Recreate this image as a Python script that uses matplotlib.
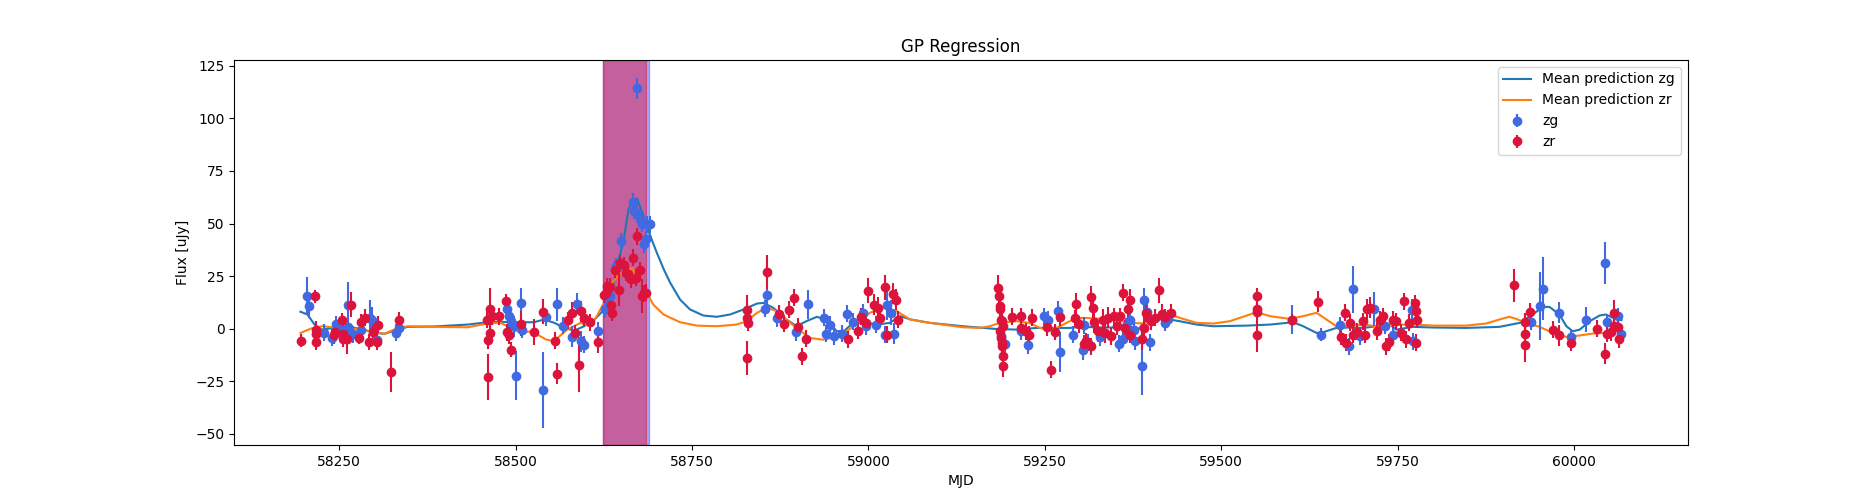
import matplotlib
matplotlib.use("Agg")
import matplotlib.pyplot as plt

# ---------------- data: zg band ----------------
zg_mjd = [58205, 58206.5, 58229, 58240, 58246, 58250, 58262.5, 58262, 58270, 58281, 58293, 58297, 58303, 58331, 58334,
          58488, 58490.5, 58493, 58497, 58501, 58507.5, 58509, 58539, 58543, 58558, 58567.5, 58580.5, 58586.5, 58592.5, 58597, 58617,
          58626.5, 58629, 58634, 58641.5, 58649, 58666, 58667.5, 58671.5, 58672, 58676, 58679, 58682, 58684, 58686, 58690,
          58854, 58855.7, 58871, 58897, 58914, 58937, 58940, 58945, 58951, 58962, 58970, 58978, 58992, 58997, 59011, 59023, 59026, 59031.5, 59036,
          59188, 59194, 59216.5, 59226, 59248.5, 59254, 59268.5, 59271, 59289.5, 59304, 59306, 59311, 59328, 59355, 59360, 59365,
          59370.5, 59376, 59377.5, 59387, 59390.5, 59394, 59399, 59420, 59425,
          59600.5, 59641,
          59668, 59680.5, 59687, 59696, 59716.5, 59731.5, 59743.5, 59769.5, 59772,
          59939, 59952, 59956.5, 59979, 59995, 60017, 60044, 60046, 60062.8, 60067]
zg_flux = [15.6, 10.8, -2.0, -4.3, 2.2, 0.5, 11.2, 0.8, -2.7, -0.8, 5.0, 4.3, -5.4, -1.9, 0.2,
           9.4, 5.8, 3.5, 1.1, -22.4, 12.2, -0.6, -29.1, 5.4, 11.5, 1.4, -4.0, 11.9, -6.0, -7.6, -1.0,
           9.1, 15.4, 15.4, 29.7, 41.5, 60.4, 56.0, 114.3, 55.2, 52.0, 50.0, 40.1, 42.5, 49.6, 49.6,
           9.5, 15.9, 4.8, -1.7, 11.5, 5.1, -2.5, 1.9, -3.7, -2.5, 7.0, 3.2, 7.5, 1.1, 1.9, -2.9, 11.0, 7.5, -2.5,
           -3.7, -7.3, -1.3, -8.0, 5.9, 4.3, 8.3, -11.1, -2.9, -10.0, 1.5, -6.8, -4.1, -7.2, -5.0, 1.1,
           4.3, -0.5, -6.0, -17.6, 13.4, 7.8, -6.5, 2.7, 4.6,
           4.3, -2.9,
           1.6, -8.4, 18.6, -3.7, 9.4, 1.4, -2.9, 9.0, -6.0,
           3.2, 10.7, 18.9, 7.5, -4.1, 4.3, 31.3, 3.0, 5.9, -2.5]
zg_err = [9, 6, 4, 4, 4, 3, 11, 4, 4, 4, 8.5, 6, 4, 4, 3,
          4, 5, 4, 5, 11.5, 7, 4, 18, 4, 8, 4, 5, 5, 5, 4, 4,
          4, 4, 4, 4, 4, 4, 4, 5.2, 4, 4, 4, 4, 4, 4, 4,
          4, 4, 4, 4, 7, 4, 4, 4, 4, 4, 4, 4, 4, 4, 4, 4, 7, 6, 5,
          4, 4, 4, 4, 4, 4, 5, 9.5, 4, 5, 4, 4, 4, 4, 4, 4,
          4, 4, 4, 14, 6, 4, 4, 4, 4,
          7, 3,
          4, 4, 11, 4, 8, 4, 4, 5, 4,
          4, 16, 15, 5, 4, 6, 10, 4, 4, 4]

# ---------------- data: zr band ----------------
zr_mjd = [58196, 58216, 58216.5, 58217, 58217.5, 58242, 58244, 58254, 58256, 58255, 58261, 58267, 58278, 58281, 58287, 58292, 58298, 58303, 58305, 58323, 58334,
          58460, 58460.5, 58461, 58463, 58464, 58466.5, 58476, 58486, 58488, 58490.5, 58493, 58507, 58526, 58539, 58556, 58558, 58573.5, 58580.5, 58584.5, 58590, 58592.5, 58597, 58605.5, 58617,
          58625, 58628, 58629.5, 58633.5, 58635, 58636.5, 58641, 58646, 58648.5, 58653, 58657, 58658.5, 58663, 58666.5, 58670, 58671.5, 58676, 58679, 58682, 58685,
          58828, 58828.5, 58829, 58828, 58855.7, 58873, 58880, 58887, 58894.5, 58900, 58905.5, 58912,
          58971, 58985, 58990, 58996, 59000, 59008, 59013.5, 59017, 59023.5, 59026.5, 59035, 59038.5, 59042.5,
          59184, 59185, 59186, 59187, 59188, 59189, 59190, 59186.5, 59187.5, 59188.5, 59189.5, 59190.5, 59191,
          59204, 59216.5, 59216.5, 59223.5, 59227.5, 59231.5, 59253, 59258, 59264.5, 59271, 59292, 59294.5, 59298,
          59305, 59308.5, 59315.5, 59318, 59314.8, 59320, 59325, 59332, 59335, 59339, 59344, 59348.5, 59352, 59357, 59360.5, 59363, 59367.5,
          59370.5, 59370.5, 59387, 59390.5, 59393, 59400, 59406, 59411, 59415.5, 59420, 59428,
          59550.5, 59550.5, 59551, 59550.5, 59600.5, 59637,
          59669, 59675, 59677, 59683, 59686, 59692, 59701, 59704, 59706.5, 59710, 59720, 59724.5, 59729, 59734, 59737, 59743.5, 59748, 59754, 59758.5, 59762, 59766, 59775, 59776, 59777.5, 59776,
          59914.5, 59930, 59930, 59930, 59937, 59970.5, 59978, 59995, 60032.5, 60044, 60046, 60051.5, 60057, 60056, 60062.8, 60063]
zr_flux = [-5.7, 15.4, -0.5, -2.5, -6.4, -3.3, -1.5, 4.3, -2.5, -4.9, -5.2, 11.3, -4.5, 3.0, 5.1, -6.4, -1.7, -6.4, 1.9, -20.7, 4.1,
           4.3, -5.6, -23.2, 9.5, -2.1, 5.9, 5.9, 13.0, -1.7, -3.3, -10.0, 2.4, -1.6, 8.0, -5.7, -21.5, 4.0, 7.5, -2.1, -17.2, 8.3, 5.1, 3.0, -6.4,
           16.2, 17.0, 20.2, 19.9, 11.0, 7.5, 28.1, 18.5, 31.0, 30.2, 26.6, 25.8, 23.4, 33.7, 24.2, 44.0, 27.7, 15.4, 16.7, 17.0,
           9.0, 5.1, 2.7, -14.0, 27.0, 7.0, 2.4, 9.0, 14.6, 0.8, -13.2, -4.8,
           -5.2, -1.0, 5.6, 2.7, 18.1, 11.4, 9.9, 5.1, 19.6, -2.9, 16.5, 13.8, 4.3,
           19.4, 15.4, 10.7, 9.1, 4.3, 3.5, 1.1, -1.3, -4.5, -6.8, -8.4, -13.2, -18.0,
           5.6, 5.9, 0.3, -1.3, -2.9, 5.1, 0.6, -19.6, -1.6, 5.4, 4.8, 11.9, 2.0,
           -7.2, -6.0, 15.1, 9.9, -8.4, 3.0, -1.3, 4.3, -2.0, 5.1, -3.7, 5.9, 1.0, 6.0, 17.0, 0.3, 9.1,
           13.8, -2.9, -5.2, 0.3, 7.2, 3.5, 5.1, 18.3, 6.7, 5.5, 7.5,
           15.4, 9.1, 8.0, -3.3, 4.0, 12.7,
           -4.0, 7.5, -6.8, 2.7, -2.9, -1.5, 3.5, -3.0, 9.1, 9.9, -1.3, 4.3, 5.9, -8.4, -6.5, 4.3, 3.5, -2.0, 13.0, -5.2, 2.7, 12.2, 8.3, 4.3, -6.8,
           20.5, 3.2, -2.5, -8.0, 8.0, -0.5, -3.3, -6.8, 0.0, -11.9, -2.4, -1.7, 7.5, 1.4, 0.8, -5.2]
zr_err = [3, 3, 4, 4, 4, 4, 3, 3, 4, 4, 7, 6, 3, 4, 4, 4, 4, 4, 4, 9.5, 4,
          4, 4, 11, 10, 4, 4, 4, 3.5, 4, 4, 3.5, 6, 6, 6, 4, 5, 4, 5, 4, 13, 5, 4, 4, 5,
          4, 4, 4, 4, 4, 4, 4, 8, 4, 4, 4, 4, 4, 4, 4, 4, 4, 8, 4, 4,
          7, 4, 4, 8, 8, 4, 4, 4, 4, 4, 4, 4,
          4, 4, 4, 4, 6, 5, 5, 4, 6, 4, 5, 5, 4,
          6, 5, 5, 5, 5, 5, 4, 5, 5, 5, 5, 5, 5,
          4, 4, 4, 4, 4, 4, 4, 4, 4, 4, 4, 5, 4,
          4, 4, 5, 5, 4, 5, 5, 5, 5, 5, 4, 4, 4, 4, 4, 4, 5,
          5, 4, 5, 5, 4, 4, 4, 6, 5, 4, 4,
          4, 4, 4, 8, 3, 5,
          4, 4, 4, 4, 4, 4, 4, 4, 5, 5, 4, 4, 4, 4, 4, 4, 4, 4, 4, 4, 4, 4, 4, 4, 4,
          8, 4, 4, 8, 4, 4, 5, 4, 4, 5, 4, 4, 6, 4, 4, 4]

# ---------------- GP mean predictions ----------------
pred_zg_mjd = [58195, 58205, 58215, 58225, 58243, 58262, 58281, 58300, 58314, 58333, 58347, 58385, 58432, 58460, 58479,
               58500, 58526, 58540, 58555, 58569, 58583, 58597, 58611, 58621, 58628, 58635, 58644, 58653, 58660, 58665,
               58672, 58681, 58691, 58700, 58710, 58719, 58733, 58747, 58766, 58785, 58804, 58823, 58842, 58851, 58865,
               58884, 58898, 58912, 58927, 58936, 58945, 58955, 58966, 58978, 59000, 59015, 59030, 59045, 59060, 59087, 59134,
               59181, 59210, 59238, 59266, 59285, 59304, 59330, 59355, 59371, 59380, 59390, 59408, 59427, 59441, 59465,
               59489, 59536, 59569, 59602, 59616, 59635, 59644, 59663, 59682, 59701, 59720, 59739, 59748, 59772, 59800,
               59847, 59894, 59923, 59941, 59956, 59965, 59979, 59989, 59998, 60008, 60022, 60036, 60045, 60055, 60067]
pred_zg_flux = [8.0, 6.7, 1.9, -0.5, 0.3, 0.8, -0.2, -2.0, -2.5, -0.5, 0.8, 1.0, 1.9, 3.0, 3.2,
                3.0, 3.0, 4.3, 2.7, 0.3, -1.0, 1.1, 4.0, 7.5, 10.7, 15.4, 29.7, 42.0, 56.8, 60.5,
                62.0, 53.6, 44.0, 36.1, 28.1, 21.8, 13.8, 9.1, 6.2, 5.6, 6.7, 9.1, 11.9, 12.2, 9.9,
                4.3, 1.1, 3.5, 5.6, 4.5, 2.5, -1.3, -1.0, 2.7, 2.5, 2.0, 2.7, 5.9, 4.3, 2.7, 1.1,
                -0.2, -0.5, 0.3, 0.3, 0.3, 0.8, 0.5, 0.5, 1.1, -1.3, 2.7, 4.3, 4.3, 3.5, 1.9,
                1.1, 1.4, 1.9, 3.0, 1.1, -2.1, -1.8, 0.3, 0.5, 0.3, 1.1, 1.9, -0.5, 0.8, 0.5,
                0.3, 0.8, 2.7, 6.7, 10.3, 10.3, 6.7, 1.1, -1.3, -0.5, 3.5, 6.2, 6.7, 5.1, 4.0]
pred_zr_mjd = [58195, 58210, 58225, 58243, 58262, 58281, 58300, 58314, 58333, 58347, 58385, 58432, 58460, 58479, 58493,
               58507, 58522, 58531, 58543, 58554, 58573, 58592, 58606, 58615, 58625, 58634, 58644, 58658, 58665, 58676.5,
               58686, 58695, 58709.5, 58733, 58757, 58785, 58813, 58827.5, 58842, 58856, 58870, 58889, 58907.6, 58917, 58936,
               58950, 58969, 58988, 59002, 59021, 59040, 59059, 59087, 59134, 59158, 59172, 59186, 59210, 59228, 59243,
               59252, 59266, 59276, 59290, 59304, 59323, 59346, 59371, 59390, 59408, 59427, 59441, 59465, 59489, 59512,
               59536, 59550, 59569, 59597, 59616, 59635, 59649, 59663, 59682, 59701, 59720, 59748, 59776, 59800, 59847,
               59875, 59894, 59908, 59918, 59932, 59951, 59970, 59989, 60008, 60026, 60041, 60067]
pred_zr_flux = [-2.1, 0.0, 1.1, 0.5, 0.3, -0.5, -1.6, -2.5, 0.3, 1.1, 0.8, 0.6, 2.4, 2.7, 0.3,
                -2.1, -1.3, -2.9, -5.2, -6.0, -0.5, 2.7, 1.1, 5.9, 12.2, 20.2, 25.0, 28.1, 28.5, 23.4,
                17.0, 11.4, 6.7, 3.0, 1.4, 1.1, 1.9, 3.5, 7.5, 9.9, 8.3, 2.7, -2.1, -4.5, -5.3,
                -4.3, -1.3, 3.5, 7.5, 9.9, 8.3, 4.3, 2.7, 0.6, 0.3, 1.1, 2.7, 3.5, 2.7, 0.3,
                -0.5, 0.3, 1.9, 4.3, 5.1, 4.8, 4.3, 2.7, 2.4, 5.1, 6.7, 5.1, 2.7, 2.4, 3.5,
                6.2, 7.8, 5.9, 4.6, 5.9, 7.5, 4.3, 1.1, 1.1, 1.9, 1.1, 1.9, 1.9, 1.4, 1.4,
                2.4, 4.3, 5.6, 4.6, 2.7, 0.8, -2.1, -4.0, -3.3, -2.4, -2.1, -1.0]

# flare windows
span_start = 58624
span_zg_end = 58689
span_zr_end = 58684

fig, ax = plt.subplots(figsize=(18.75, 5), dpi=100)
ax.plot(pred_zg_mjd, pred_zg_flux, color="C0", label="Mean prediction zg")
ax.plot(pred_zr_mjd, pred_zr_flux, color="C1", label="Mean prediction zr")
ax.errorbar(zg_mjd, zg_flux, yerr=zg_err, fmt="o", color="royalblue", label="zg")
ax.errorbar(zr_mjd, zr_flux, yerr=zr_err, fmt="o", color="crimson", label="zr")
ax.axvspan(span_start, span_zg_end, color="blue", alpha=0.32)
ax.axvspan(span_start, span_zr_end, color="crimson", alpha=0.5)
ax.set_title("GP Regression")
ax.set_xlabel("MJD")
ax.set_ylabel("Flux [uJy]")
ax.legend(loc="upper right")
fig.savefig("out.png", dpi=100)
